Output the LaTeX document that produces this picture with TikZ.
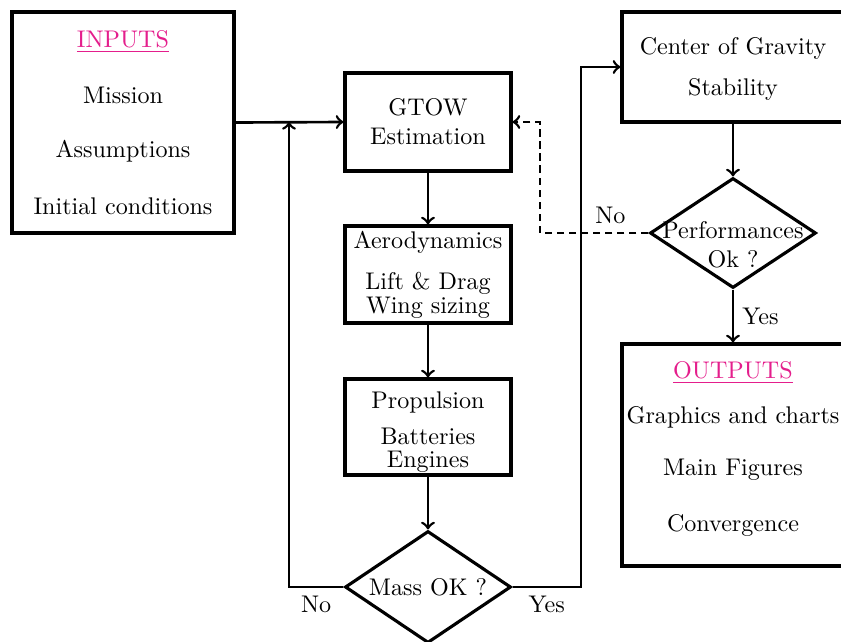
\documentclass[tikz,border=0pt]{standalone}
\usepackage{xcolor}
\usepackage{tikz}
\usetikzlibrary{shapes,arrows,positioning,calc}
\definecolor{titlepink}{RGB}{228,30,140}
\newcommand{\px}{0.4149pt}

\begin{document}
\begin{tikzpicture}[x=\px, y=-\px,
    block/.style={draw, line width=1.3pt, rectangle, align=center, inner sep=0pt},
    decision/.style={draw, line width=1.3pt, diamond, aspect=1.5, inner sep=0pt, minimum width=166*\px, minimum height=112*\px},
    line/.style={draw, line width=1.1pt, ->}]
    \useasboundingbox (0,0) rectangle (841,641);

    \node[block, minimum width=222*\px, minimum height=221*\px] (inputs) at (123,122.5) {\textcolor{titlepink}{\underline{INPUTS}}\\[11.4pt] Mission\\[10.2pt] Assumptions\\[11.9pt] Initial conditions};
    \node[block, minimum width=166*\px, minimum height=98*\px] (gtow) at (428,122) {GTOW\\Estimation};
    \node[block, minimum width=166*\px, minimum height=97*\px] (aero) at (428,274.5) {Aerodynamics\\[5.1pt] Lift \& Drag\\[-2.2pt] Wing sizing};
    \node[block, minimum width=166*\px, minimum height=96*\px] (prop) at (428,427) {\rule{0pt}{11pt}Propulsion\\[3pt] Batteries\\[-2.3pt] Engines};
    \node[decision] (mass) at (428,587) {Mass OK ?};
    \node[block, minimum width=222*\px, minimum height=110*\px] (cog) at (733,67) {\rule{0pt}{9pt}Center of Gravity\\[5pt] Stability};
    \node[decision, minimum height=110*\px, label={[align=center, yshift=-5pt]center:{Performances\\Ok ?}}] (perf) at (733,233) {};
    \node[block, minimum width=222*\px, minimum height=222*\px] (outputs) at (733,455) {\textcolor{titlepink}{\underline{OUTPUTS}}\\[6.7pt] Graphics and charts\\[9.4pt] Main Figures\\[11.1pt] Convergence\rule[-7pt]{0pt}{7pt}};

    \coordinate (nojoin) at (289,122);
    \coordinate (yesturn) at (581,587);
    \coordinate (noturn) at (540,233);

    \draw[line] (inputs.east) -- (gtow.west);
    \draw[line] (gtow) -- (aero);
    \draw[line] (aero) -- (prop);
    \draw[line] (prop) -- (mass);
    \draw[line] (mass.west) -| node[pos=0.25, below] {No} (nojoin);
    \draw[line] (mass.east) -- node[below] {Yes} (yesturn) |- (cog.west);
    \draw[line] (cog) -- (perf);
    \draw[line] (perf) -- node[right] {Yes} (outputs);
    \draw[line, dash pattern=on 3pt off 2pt] (perf.west) -- node[pos=0.35, above] {No} (noturn) |- (gtow.east);
\end{tikzpicture}
\end{document}
